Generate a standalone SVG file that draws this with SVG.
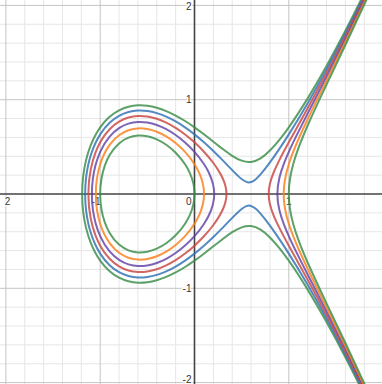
<svg xmlns="http://www.w3.org/2000/svg" xmlns:xlink="http://www.w3.org/1999/xlink" width="382" height="384" viewBox="0 0 382 384">
<style>
.ns{vector-effect:non-scaling-stroke;fill:none}
.minor{stroke:#e6e6e6;stroke-width:1}
.major{stroke:#c4c4c4;stroke-width:1}
.axis{stroke:#444;stroke-width:1.6}
.crv{fill:none;stroke-width:2;stroke-linecap:round;stroke-linejoin:round;stroke-opacity:0.82}
.g{stroke:#388c46}.o{stroke:#fa7e19}.p{stroke:#6042a6}.r{stroke:#c74440}.b{stroke:#2d70b3}
.lbl{font-family:"Liberation Sans",Arial,sans-serif;font-size:10px;fill:#333;stroke:#fff;stroke-width:2.5;paint-order:stroke;stroke-linejoin:round}
</style>
<defs>
<path id="c0a" vector-effect="non-scaling-stroke" d="M-1 0Q-1 0.16408-0.95 0.30434C-0.93333 0.35109-0.91667 0.3847-0.9 0.41352C-0.86667 0.47116-0.83333 0.50809-0.8 0.53666C-0.76667 0.56523-0.73333 0.58438-0.7 0.59749C-0.66667 0.6106-0.63333 0.61753-0.6 0.61968C-0.56667 0.62183-0.53333 0.61917-0.5 0.61237C-0.46667 0.60557-0.43333 0.59461-0.4 0.57966C-0.36667 0.56471-0.33333 0.54578-0.3 0.52249C-0.26667 0.4992-0.23333 0.47165-0.2 0.43818C-0.16667 0.40471-0.13333 0.36602-0.1 0.31464C-0.08333 0.28895-0.06667 0.26037-0.05 0.22333Q0 0.11222 0 0"/>
<path id="c0b" vector-effect="non-scaling-stroke" d="M1 0Q1 0.15221 1.05 0.32806C1.06667 0.38668 1.08333 0.43502 1.1 0.48062C1.13333 0.57182 1.16667 0.65049 1.2 0.72664C1.26667 0.87894 1.33333 1.019 1.4 1.15931C1.46667 1.29962 1.53333 1.43893 1.6 1.57987C1.66667 1.72081 1.73333 1.86323 1.8 2.00798C1.83333 2.08036 1.86667 2.15331 1.9 2.22688"/>
<path id="c1a" vector-effect="non-scaling-stroke" d="M-1.0467 0Q-1.0467 0.16855-1 0.31623C-0.96667 0.42164-0.93333 0.4748-0.9 0.52058C-0.86667 0.56636-0.83333 0.59828-0.8 0.6229C-0.76667 0.64752-0.73333 0.66443-0.7 0.67602C-0.66667 0.68761-0.63333 0.69378-0.6 0.6957C-0.56667 0.69762-0.53333 0.69525-0.5 0.6892C-0.46667 0.68315-0.43333 0.67343-0.4 0.6603C-0.36667 0.64717-0.33333 0.63066-0.3 0.61074C-0.26667 0.59082-0.23333 0.56751-0.2 0.54037C-0.16667 0.51323-0.13333 0.48233-0.1 0.44609C-0.06667 0.40985-0.03333 0.36893 0 0.31623C0.01667 0.28988 0.03333 0.26083 0.05 0.22389Q0.101 0.11085 0.101 0"/>
<path id="c1b" vector-effect="non-scaling-stroke" d="M0.9456 0Q0.9456 0.1442 1 0.31623C1.03333 0.42164 1.06667 0.49914 1.1 0.57533C1.13333 0.65152 1.16667 0.72264 1.2 0.79246C1.26667 0.93211 1.33333 1.0663 1.4 1.20167C1.46667 1.33704 1.53333 1.47301 1.6 1.61121C1.66667 1.74941 1.73333 1.88974 1.8 2.03273C1.83333 2.10423 1.86667 2.17638 1.9 2.24922"/>
<path id="c2a" vector-effect="non-scaling-stroke" d="M-1.088 0Q-1.088 0.15968-1.05 0.30393C-1.03333 0.3672-1.01667 0.40994-1 0.44721C-0.96667 0.52175-0.93333 0.56997-0.9 0.6091C-0.86667 0.64823-0.83333 0.67662-0.8 0.69857C-0.76667 0.72052-0.73333 0.73582-0.7 0.74632C-0.66667 0.75682-0.63333 0.76246-0.6 0.7642C-0.56667 0.76594-0.53333 0.76378-0.5 0.75829C-0.46667 0.7528-0.43333 0.74396-0.4 0.73212C-0.36667 0.72028-0.33333 0.70544-0.3 0.68775C-0.26667 0.67006-0.23333 0.64953-0.2 0.6261C-0.16667 0.60267-0.13333 0.57638-0.1 0.54681C-0.06667 0.51724-0.03333 0.48448 0 0.44721C0.03333 0.40994 0.06667 0.36867 0.1 0.3178C0.11667 0.29236 0.13333 0.26467 0.15 0.23103Q0.2092 0.11156 0.2092 0"/>
<path id="c2b" vector-effect="non-scaling-stroke" d="M0.8789 0Q0.8789 0.0817 0.9 0.17029C0.91667 0.24027 0.93333 0.28426 0.95 0.32768C0.96667 0.3711 0.98333 0.40994 1 0.44721C1.03333 0.52175 1.06667 0.58974 1.1 0.65651C1.13333 0.72328 1.16667 0.78838 1.2 0.85323C1.26667 0.98293 1.33333 1.11167 1.4 1.24258C1.46667 1.37349 1.53333 1.50634 1.6 1.64195C1.66667 1.77756 1.73333 1.91589 1.8 2.05718C1.83333 2.12783 1.86667 2.19921 1.9 2.27134"/>
<path id="c3a" vector-effect="non-scaling-stroke" d="M-1.1254 0Q-1.1254 0.13553-1.1 0.26268C-1.08333 0.34612-1.06667 0.39477-1.05 0.43861C-1.03333 0.48245-1.01667 0.51729-1 0.54772C-0.96667 0.60858-0.93333 0.65156-0.9 0.68629C-0.86667 0.72102-0.83333 0.74681-0.8 0.76681C-0.76667 0.78681-0.73333 0.8009-0.7 0.81056C-0.66667 0.82022-0.63333 0.82543-0.6 0.82704C-0.56667 0.82865-0.53333 0.82665-0.5 0.82158C-0.46667 0.81651-0.43333 0.80837-0.4 0.7975C-0.36667 0.78663-0.33333 0.77304-0.3 0.75697C-0.26667 0.7409-0.23333 0.72234-0.2 0.70143C-0.16667 0.68052-0.13333 0.65725-0.1 0.63166C-0.06667 0.60607-0.03333 0.57815 0 0.54772C0.03333 0.51729 0.06667 0.48439 0.1 0.44833C0.13333 0.41227 0.16667 0.37326 0.2 0.32863C0.21667 0.30631 0.23333 0.2826 0.25 0.25617C0.26667 0.22974 0.28333 0.20134 0.3 0.16432Q0.3389 0.07791 0.3389 0"/>
<path id="c3b" vector-effect="non-scaling-stroke" d="M0.7865 0Q0.7865 0.05285 0.8 0.10954C0.81667 0.17953 0.83333 0.21481 0.85 0.25323C0.86667 0.29165 0.88333 0.32599 0.9 0.35917C0.93333 0.42553 0.96667 0.48686 1 0.54772C1.06667 0.66943 1.13333 0.78833 1.2 0.90995C1.26667 1.03157 1.33333 1.15532 1.4 1.28219C1.46667 1.40906 1.53333 1.53896 1.6 1.67213C1.66667 1.8053 1.73333 1.9417 1.8 2.08135C1.83333 2.15118 1.86667 2.22181 1.9 2.29325"/>
<path id="c4" vector-effect="non-scaling-stroke" d="M-1.1597 0Q-1.1597 0.08633-1.15 0.17066C-1.14167 0.24311-1.13333 0.28143-1.125 0.31807C-1.11667 0.35471-1.10833 0.38444-1.1 0.4111C-1.08333 0.46441-1.06667 0.50516-1.05 0.54072C-1.03333 0.57628-1.01667 0.60611-1 0.63246C-0.96667 0.68516-0.93333 0.72411-0.9 0.75565C-0.86667 0.78719-0.83333 0.81097-0.8 0.82946C-0.76667 0.84795-0.73333 0.86106-0.7 0.87006C-0.66667 0.87906-0.63333 0.88393-0.6 0.88544C-0.56667 0.88695-0.53333 0.88507-0.5 0.88034C-0.46667 0.87561-0.43333 0.868-0.4 0.8579C-0.36667 0.8478-0.33333 0.8352-0.3 0.82037C-0.26667 0.80554-0.23333 0.78848-0.2 0.76942C-0.16667 0.75036-0.13333 0.72929-0.1 0.7064C-0.06667 0.68351-0.03333 0.65881 0 0.63246C0.03333 0.60611 0.06667 0.5781 0.1 0.54863C0.13333 0.51916 0.16667 0.48823 0.2 0.45607C0.23333 0.42391 0.26667 0.39051 0.3 0.35637C0.33333 0.32223 0.36667 0.28724 0.4 0.25298C0.43333 0.21872 0.46667 0.18446 0.5 0.15811C0.51667 0.14493 0.53333 0.13398 0.55 0.12796C0.56667 0.12194 0.58333 0.12122 0.6 0.12649C0.61667 0.13176 0.63333 0.14271 0.65 0.15692C0.66667 0.17113 0.68333 0.18847 0.7 0.20736C0.73333 0.24514 0.76667 0.28884 0.8 0.33466C0.83333 0.38048 0.86667 0.42874 0.9 0.47854C0.93333 0.52834 0.96667 0.57976 1 0.63246C1.06667 0.73787 1.13333 0.84845 1.2 0.96333C1.26667 1.07821 1.33333 1.19743 1.4 1.3206C1.46667 1.44377 1.53333 1.57091 1.6 1.70176C1.66667 1.83261 1.73333 1.96716 1.8 2.10523C1.83333 2.17426 1.86667 2.24418 1.9 2.31495"/>
<path id="c5" vector-effect="non-scaling-stroke" d="M-1.1915 0Q-1.1915 0.09725-1.18 0.19227C-1.17 0.27489-1.16 0.31805-1.15 0.35934C-1.13333 0.42816-1.11667 0.47639-1.1 0.51865C-1.08333 0.56091-1.06667 0.5957-1.05 0.6264C-1.03333 0.6571-1.01667 0.68354-1 0.70711C-0.96667 0.75425-0.93333 0.79005-0.9 0.81915C-0.86667 0.84825-0.83333 0.87042-0.8 0.88769C-0.76667 0.90496-0.73333 0.91728-0.7 0.92574C-0.66667 0.9342-0.63333 0.93879-0.6 0.94021C-0.56667 0.94163-0.53333 0.93986-0.5 0.93541C-0.46667 0.93096-0.43333 0.92381-0.4 0.91433C-0.36667 0.90485-0.33333 0.89304-0.3 0.8792C-0.26667 0.86536-0.23333 0.8495-0.2 0.83187C-0.16667 0.81424-0.13333 0.79484-0.1 0.77395C-0.06667 0.75306-0.03333 0.73068 0 0.70711C0.03333 0.68354 0.06667 0.65878 0.1 0.63325C0.13333 0.60772 0.16667 0.58141 0.2 0.55498C0.23333 0.52855 0.26667 0.50199 0.3 0.47645C0.33333 0.45091 0.36667 0.42637 0.4 0.40497C0.43333 0.38357 0.46667 0.36534 0.5 0.35355C0.53333 0.34176 0.56667 0.33668 0.6 0.34059C0.63333 0.3445 0.66667 0.35744 0.7 0.37815C0.73333 0.39886 0.76667 0.42713 0.8 0.46043C0.83333 0.49373 0.86667 0.53204 0.9 0.57359C0.93333 0.61514 0.96667 0.65997 1 0.70711C1.06667 0.80139 1.13333 0.90475 1.2 1.0139C1.26667 1.12305 1.33333 1.23815 1.4 1.35794C1.46667 1.47773 1.53333 1.60226 1.6 1.7309C1.66667 1.85954 1.73333 1.99231 1.8 2.12885C1.83333 2.19712 1.86667 2.26633 1.9 2.33645"/>
</defs>
<rect width="382" height="384" fill="#fff"/>
<g id="grid" transform="matrix(94.3 0 0 -94.3 194.5 194)">
<path class="ns minor" d="M-1.8-2.2V2.2M-1.6-2.2V2.2M-1.4-2.2V2.2M-1.2-2.2V2.2M-0.8-2.2V2.2M-0.6-2.2V2.2M-0.4-2.2V2.2M-0.2-2.2V2.2M0.2-2.2V2.2M0.4-2.2V2.2M0.6-2.2V2.2M0.8-2.2V2.2M1.2-2.2V2.2M1.4-2.2V2.2M1.6-2.2V2.2M1.8-2.2V2.2M-2.2-1.8H2.2M-2.2-1.6H2.2M-2.2-1.4H2.2M-2.2-1.2H2.2M-2.2-0.8H2.2M-2.2-0.6H2.2M-2.2-0.4H2.2M-2.2-0.2H2.2M-2.2 0.2H2.2M-2.2 0.4H2.2M-2.2 0.6H2.2M-2.2 0.8H2.2M-2.2 1.2H2.2M-2.2 1.4H2.2M-2.2 1.6H2.2M-2.2 1.8H2.2"/>
<path class="ns major" d="M-2-2.2V2.2M-1-2.2V2.2M1-2.2V2.2M2-2.2V2.2M-2.2-2H2.2M-2.2-1H2.2M-2.2 1H2.2M-2.2 2H2.2"/>
<path class="ns axis" d="M0-2.2V2.2M-2.2 0H2.2"/>
</g>
<g id="labels" class="lbl">
<text x="191.5" y="9.5" text-anchor="end">2</text>
<text x="191.5" y="103.2" text-anchor="end">1</text>
<text x="191.5" y="291.8" text-anchor="end">-1</text>
<text x="191.5" y="383" text-anchor="end">-2</text>
<text x="191.5" y="204.5" text-anchor="end">0</text>
<text x="100.5" y="204.5" text-anchor="end">-1</text>
<text x="288.8" y="204.5" text-anchor="middle">1</text>
<text x="4.8" y="204.5">2</text>
</g>
<g id="curves" transform="matrix(94.3 0 0 -94.3 194.5 194)">
<g id="curve-c05" class="crv g"><use xlink:href="#c5"/><use xlink:href="#c5" transform="scale(1,-1)"/></g>
<g id="curve-c04" class="crv b"><use xlink:href="#c4"/><use xlink:href="#c4" transform="scale(1,-1)"/></g>
<g id="curve-c03" class="crv r"><use xlink:href="#c3a"/><use xlink:href="#c3a" transform="scale(1,-1)"/><use xlink:href="#c3b"/><use xlink:href="#c3b" transform="scale(1,-1)"/></g>
<g id="curve-c02" class="crv p"><use xlink:href="#c2a"/><use xlink:href="#c2a" transform="scale(1,-1)"/><use xlink:href="#c2b"/><use xlink:href="#c2b" transform="scale(1,-1)"/></g>
<g id="curve-c01" class="crv o"><use xlink:href="#c1a"/><use xlink:href="#c1a" transform="scale(1,-1)"/><use xlink:href="#c1b"/><use xlink:href="#c1b" transform="scale(1,-1)"/></g>
<g id="curve-c00" class="crv g"><use xlink:href="#c0a"/><use xlink:href="#c0a" transform="scale(1,-1)"/><use xlink:href="#c0b"/><use xlink:href="#c0b" transform="scale(1,-1)"/></g>
</g>
</svg>
